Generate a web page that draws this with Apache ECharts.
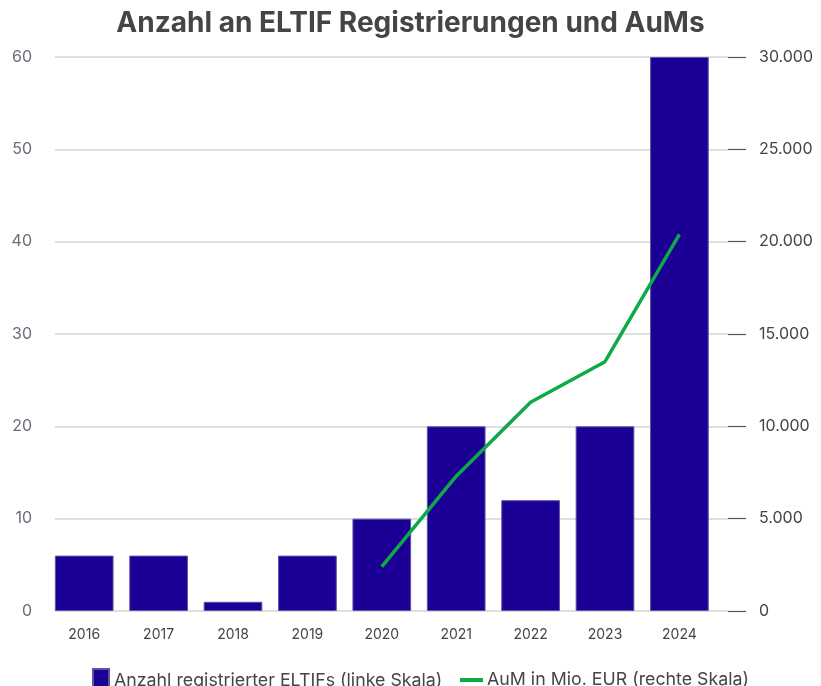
<!DOCTYPE html>
<html><head><meta charset="utf-8">
<script src="https://cdn.jsdelivr.net/npm/echarts@6/dist/echarts.min.js"></script>
<style>html,body{margin:0;padding:0;background:#fff}#c{width:821px;height:686px}</style>
</head><body><div id="c"></div>
<script>
const categories = ['2016','2017','2018','2019','2020','2021','2022','2023','2024'];
const eltifCount = [6, 6, 1, 6, 10, 20, 12, 20, 60];
const aumMio = [null, null, null, null, 2400, 7300, 11300, 13500, 20400];
const leftTicks = [0, 60, 10];
const rightTicks = [0, 30000, 5000];
const barName = 'Anzahl registrierter ELTIFs (linke Skala)';
const lineName = 'AuM in Mio. EUR (rechte Skala)';

const chart = echarts.init(document.getElementById('c'));
const F = 'Inter, "Noto Sans", sans-serif';
const fmt = v => String(v).replace(/\B(?=(\d{3})+(?!\d))/g, '.');
chart.setOption({
  animation: false,
  title: { text: 'Anzahl an ELTIF Registrierungen und AuMs', left: 'center', top: 5,
    textStyle: { fontFamily: F, fontSize: 28, fontWeight: 'bold', color: '#454545' } },
  legend: [
    { data: [{ name: barName, icon: 'rect' }], left: 87, top: 663, itemWidth: 16, itemHeight: 24, itemGap: 10,
      textStyle: { fontFamily: F, fontSize: 17.8, color: '#454545', padding: [0,0,0,0] } },
    { data: [{ name: lineName, icon: 'rect' }], left: 455, top: 663, itemWidth: 23, itemHeight: 4, itemGap: 10,
      textStyle: { fontFamily: F, fontSize: 17.8, color: '#454545', padding: [0,0,0,-1], lineHeight: 24 } }
  ],
  grid: [
    { left: 55, right: 93, top: 57, bottom: 75 },
    { left: 47, width: 669.6, top: 57, bottom: 75 }
  ],
  xAxis: [
    { type: 'value', gridIndex: 0, min: 0, max: 1, show: false },
    { type: 'category', gridIndex: 1, data: categories,
      axisLine: { show: false }, axisTick: { show: false },
      axisLabel: { fontFamily: F, fontSize: 14, color: '#444', margin: 17 } }
  ],
  yAxis: [
    { type: 'value', gridIndex: 0, min: leftTicks[0], max: leftTicks[1], interval: leftTicks[2], position: 'left',
      axisLine: { show: false }, axisTick: { show: false },
      axisLabel: { fontFamily: F, fontSize: 16, color: '#6b6b78', margin: 23 },
      splitLine: { lineStyle: { color: '#d4d4d4', width: 1.5 } } },
    { type: 'value', gridIndex: 0, min: rightTicks[0], max: rightTicks[1], interval: rightTicks[2], position: 'right',
      axisLine: { show: false }, axisTick: { show: true, length: 18, lineStyle: { color: '#555', width: 1.2 } },
      axisLabel: { fontFamily: F, fontSize: 16, color: '#444', margin: 31, formatter: fmt },
      splitLine: { show: false } },
    { type: 'value', gridIndex: 1, min: leftTicks[0], max: leftTicks[1], show: false, splitLine: { show: false } },
    { type: 'value', gridIndex: 1, min: rightTicks[0], max: rightTicks[1], show: false, splitLine: { show: false } }
  ],
  series: [
    { name: barName, type: 'bar', xAxisIndex: 1, yAxisIndex: 2, data: eltifCount, barWidth: 58.7,
      itemStyle: { color: '#1c0096', borderColor: '#5d54a6', borderWidth: 1 } },
    { name: lineName, type: 'line', xAxisIndex: 1, yAxisIndex: 3, data: aumMio, showSymbol: false, symbol: 'none',
      lineStyle: { color: '#0daa48', width: 3.5 }, itemStyle: { color: '#0daa48' } }
  ]
});
</script></body></html>
